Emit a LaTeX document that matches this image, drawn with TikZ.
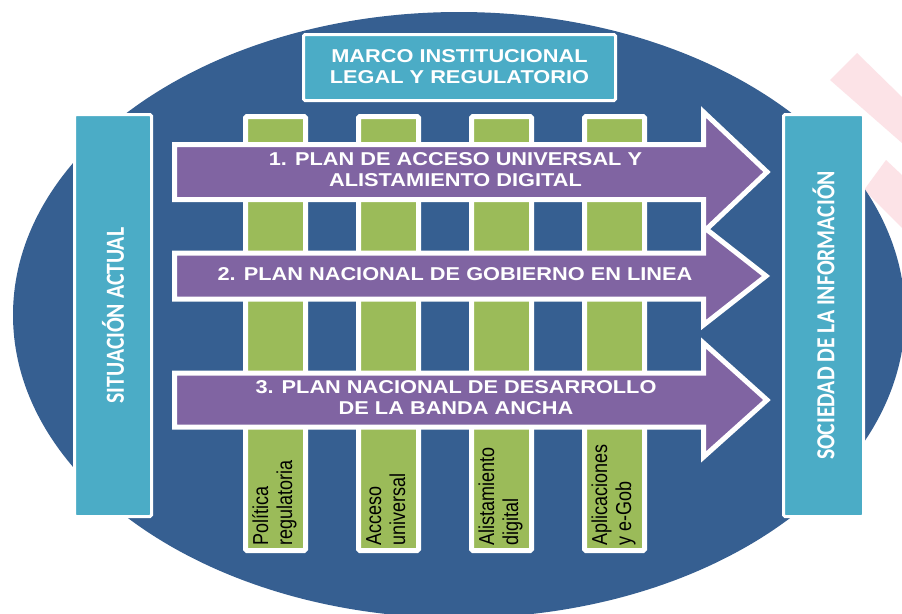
\documentclass[tikz,border=0pt]{standalone}
\usepackage{fontspec}
\setmainfont{Liberation Sans}
\newfontfamily\calib{Carlito}
\definecolor{ellblue}{HTML}{365F91}
\definecolor{tealc}{HTML}{4BACC6}
\definecolor{greenc}{HTML}{9BBB59}
\definecolor{purplec}{HTML}{8064A2}
\definecolor{pinkwm}{HTML}{FCE3E7}
\newcommand{\htext}[1]{\scalebox{1.17}[1]{\fontsize{18.6}{20.5}\selectfont\bfseries\begin{tabular}{@{}c@{}}#1\end{tabular}}}
\newcommand{\vtext}[1]{\rotatebox{90}{\scalebox{1}[1.2]{\fontsize{21.7}{24}\selectfont\calib\bfseries #1}}}
\newcommand{\clab}[2]{\rotatebox{90}{\scalebox{1}[1.2]{\fontsize{18}{20}\selectfont\begin{tabular}{@{}l@{}}#1\\#2\end{tabular}}}}
\begin{document}
\begin{tikzpicture}[x=1pt,y=-1pt,
  sidebox/.style={draw=white, line width=3pt, fill=tealc, rounded corners=1.5pt, inner sep=0pt, text=white},
  colbox/.style={draw=white, line width=5pt, fill=greenc, rounded corners=1.5pt, inner sep=0pt, minimum width=60pt, minimum height=434pt},
  bigarrow/.style={draw=white, line width=5pt, fill=purplec, line join=miter},
  arrowtext/.style={text=white, inner sep=0pt},
  collabel/.style={anchor=south west, inner sep=0pt, text=black}]
\useasboundingbox (0,0) rectangle (902,613);
\fill[white] (0,0) rectangle (902,613);
% watermark
\fill[pinkwm] (830,80) -- (857,53) -- (902,97) -- (902,143) -- cycle;
\fill[pinkwm] (864,190) -- (886,160) -- (902,175) -- (902,228) -- cycle;
% ellipse
\fill[ellblue] (459,315) ellipse [x radius=446, y radius=303];
% side boxes
\node[sidebox, minimum width=77pt, minimum height=402pt] (sit) at (113,315.5) {\vtext{SITUACIÓN ACTUAL}};
\node[sidebox, minimum width=80pt, minimum height=402pt] (soc) at (823.5,315.5) {\vtext{SOCIEDAD DE LA INFORMACIÓN}};
% marco
\node[sidebox, minimum width=312pt, minimum height=66pt] (marco) at (459.5,67.5) {};
\node[arrowtext] (marcot) at (459.5,69) {\htext{MARCO INSTITUCIONAL\\LEGAL Y REGULATORIO}};
% columns
\node[colbox] (c1) at (275.5,333.5) {};
\node[colbox] (c2) at (388.5,333.5) {};
\node[colbox] (c3) at (501.5,333.5) {};
\node[colbox] (c4) at (614.5,333.5) {};
\node[collabel] (l1) at (251,546) {\clab{Política}{regulatoria}};
\node[collabel] (l2) at (364,546) {\clab{Acceso}{universal}};
\node[collabel] (l3) at (477,546) {\clab{Alistamiento}{digital}};
\node[collabel] (l4) at (590,546) {\clab{Aplicaciones}{y e-Gob}};
% arrows
\draw[bigarrow] (174.5,144.5) -- (703.5,144.5) -- (703.5,112) -- (767,172) -- (703.5,232) -- (703.5,199.5) -- (174.5,199.5) -- cycle;
\draw[bigarrow] (174.5,253) -- (703.5,253) -- (703.5,227) -- (766,276) -- (703.5,325) -- (703.5,299) -- (174.5,299) -- cycle;
\draw[bigarrow] (174.5,373) -- (703.5,373) -- (703.5,343) -- (767,400) -- (703.5,457) -- (703.5,427) -- (174.5,427) -- cycle;
\node[arrowtext] (a1) at (455.5,172) {\htext{1. PLAN DE ACCESO UNIVERSAL Y\\ALISTAMIENTO DIGITAL}};
\node[arrowtext] (a2) at (455,276) {\htext{2. PLAN NACIONAL DE GOBIERNO EN LINEA}};
\node[arrowtext] (a3) at (456,400) {\htext{3. PLAN NACIONAL DE DESARROLLO\\DE LA BANDA ANCHA}};
\end{tikzpicture}
\end{document}
